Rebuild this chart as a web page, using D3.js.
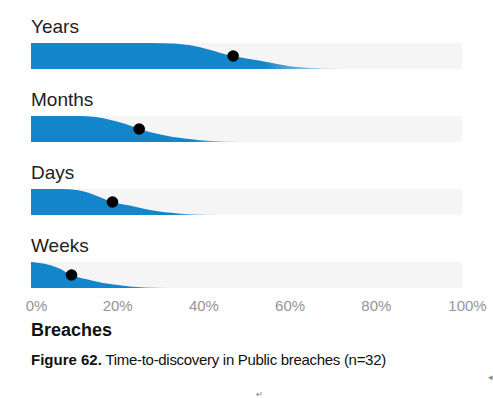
<!DOCTYPE html>
<html lang="en">
<head>
    <meta charset="UTF-8">
    <title>Time-to-discovery in Public breaches</title>
    <script src="https://d3js.org/d3.v7.min.js"></script>
    <style>
        body { margin: 0; background: #fff; }
        text { font-family: "Liberation Sans", Arial, sans-serif; }
    </style>
</head>
<body>
    <div id="chart"></div>

    <script>
        // rows, top to bottom
        const categories = ["Years", "Months", "Days", "Weeks"];
        // median position of each row (share of breaches, %)
        const medians = [46.9, 25.1, 18.9, 9.4];
        // outline of each shaded curve: x position (%) and height (share of band)
        const curveX = [
            [0, 28, 33, 37, 41, 44, 46.9, 50, 55, 60, 65, 70, 75],
            [0, 11, 15, 18, 21.8, 25.1, 29.5, 35.7, 41.9, 47, 52],
            [0, 7, 11, 14.1, 18.9, 23.4, 29.5, 35.7, 41, 46],
            [0, 3.2, 6.3, 9.4, 14.1, 18.7, 23.4, 29.5, 35]
        ];
        const curveY = [
            [1, 1, 0.98, 0.91, 0.76, 0.62, 0.5, 0.4, 0.26, 0.11, 0.04, 0.01, 0],
            [1, 1, 0.96, 0.87, 0.7, 0.5, 0.31, 0.13, 0.04, 0.01, 0],
            [1, 1, 0.95, 0.81, 0.5, 0.35, 0.14, 0.04, 0.01, 0],
            [1, 0.93, 0.77, 0.5, 0.29, 0.14, 0.05, 0.01, 0]
        ];
        const tickValues = [0, 20, 40, 60, 80, 100];

        const width = 493, height = 398;
        const left = 31, right = 462;
        const bandTop = 43, bandStep = 73, bandH = 26;

        const svg = d3.select("#chart")
                      .append("svg")
                      .attr("width", width)
                      .attr("height", height);

        const x = d3.scaleLinear().domain([0, 100]).range([left, right]);
        const y = d3.scaleLinear().domain([0, 1]).range([bandH, 0]);

        const defs = svg.append("defs");

        categories.forEach((name, i) => {
            const g = svg.append("g")
                         .attr("transform", `translate(0,${bandTop + i * bandStep})`);

            g.append("text")
             .attr("x", left)
             .attr("y", -10)
             .attr("font-size", "19px")
             .attr("fill", "#222")
             .text(name);

            g.append("rect")
             .attr("x", left)
             .attr("y", 0)
             .attr("width", right - left)
             .attr("height", bandH)
             .attr("fill", "#f5f5f5");

            // fade the tail of the curve
            const grad = defs.append("linearGradient")
                             .attr("id", "fade" + i)
                             .attr("x1", 0).attr("x2", 1)
                             .attr("y1", 0).attr("y2", 0);
            grad.append("stop").attr("offset", 0.72).attr("stop-color", "#1385cb").attr("stop-opacity", 1);
            grad.append("stop").attr("offset", 1).attr("stop-color", "#1385cb").attr("stop-opacity", 0);

            const pts = curveX[i].map((v, j) => [v, curveY[i][j]]);
            const area = d3.area()
                           .x(d => x(d[0]))
                           .y0(bandH)
                           .y1(d => y(d[1]))
                           .curve(d3.curveMonotoneX);

            g.append("path")
             .datum(pts)
             .attr("d", area)
             .attr("fill", `url(#fade${i})`);

            g.append("circle")
             .attr("cx", x(medians[i]))
             .attr("cy", y(0.5))
             .attr("r", 5.8)
             .attr("fill", "#000");
        });

        // x axis
        const axis = d3.axisBottom(x)
                       .tickValues(tickValues)
                       .tickFormat(d => d + "%")
                       .tickSize(0)
                       .tickPadding(0);

        const ax = svg.append("g")
                      .attr("transform", "translate(0,300)")
                      .call(axis);
        ax.select(".domain").remove();
        ax.selectAll("text")
          .attr("font-size", "15px")
          .attr("font-family", "\"Liberation Sans\", Arial, sans-serif")
          .attr("fill", "#959595")
          .attr("dy", "0.71em")
          .attr("dx", d => (d === 0 || d === 100) ? 5 : 0);

        svg.append("text")
           .attr("x", left)
           .attr("y", 336)
           .attr("font-size", "18px")
           .attr("font-weight", "bold")
           .attr("fill", "#111")
           .text("Breaches");

        const cap = svg.append("text")
                       .attr("x", left)
                       .attr("y", 365)
                       .attr("font-size", "15px")
                       .attr("fill", "#111");
        cap.append("tspan").attr("font-weight", "bold").text("Figure 62.");
        cap.append("tspan").attr("letter-spacing", "-0.3px")
           .text(" Time-to-discovery in Public breaches (n=32)");

        svg.append("text")
           .attr("x", 256).attr("y", 397)
           .attr("font-size", "8px").attr("fill", "#777")
           .text("↵");
        svg.append("text")
           .attr("x", 488).attr("y", 380)
           .attr("font-size", "9px").attr("fill", "#888")
           .text("◂");
    </script>
</body>
</html>
